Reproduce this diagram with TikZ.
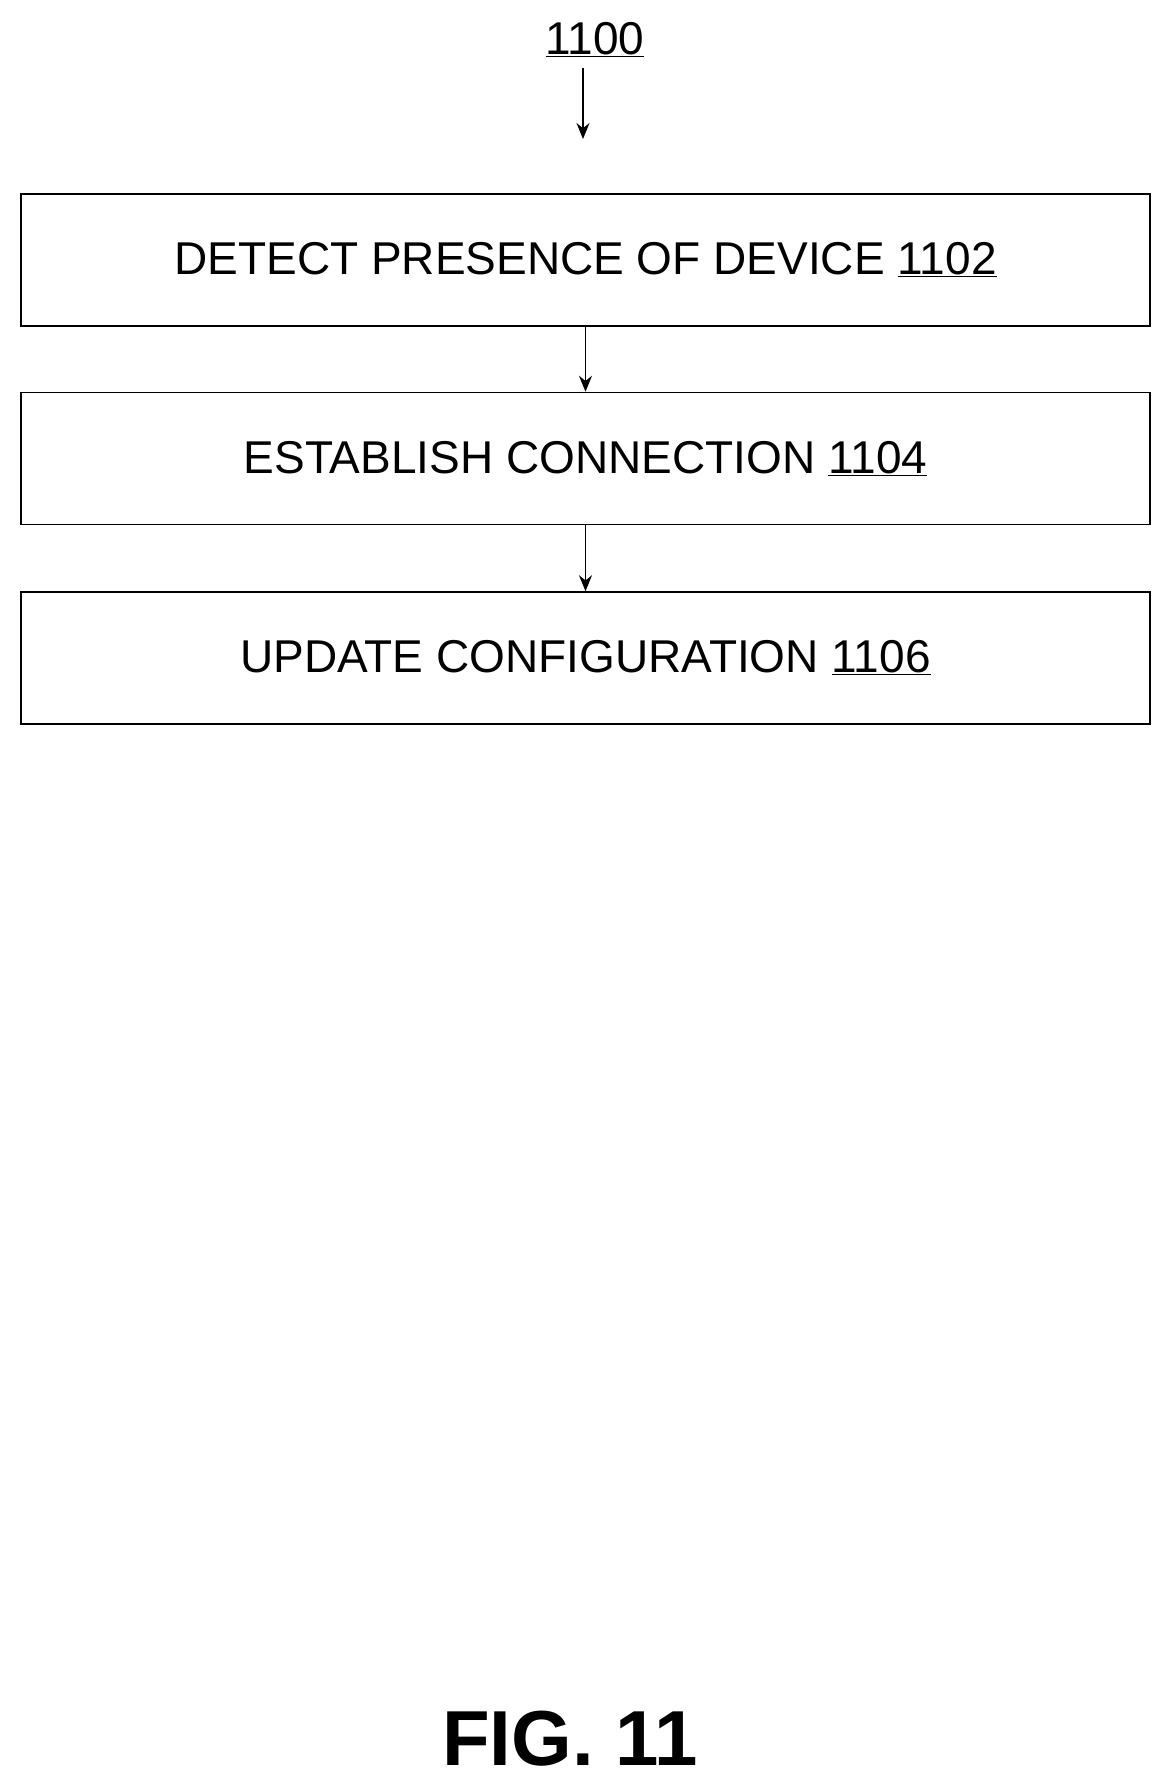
\documentclass[tikz,border=0pt]{standalone}
\usepackage{fontspec}
\setmainfont{Liberation Sans}
\usetikzlibrary{arrows.meta}
\begin{document}
\begin{tikzpicture}[x=1pt,y=-1pt,
  stepbox/.style={draw,line width=1.5pt,minimum width=1129pt,minimum height=132pt,inner sep=0pt,font=\fontsize{46}{50}\selectfont},
  arr/.style={-{Stealth[length=16pt,width=13pt]},line width=1.8pt}]
\useasboundingbox (0,0) rectangle (1168,1781);
\node[font=\fontsize{46}{50}\selectfont] (lbl) at (595,40) {\underline{1100}};
\coordinate (s) at (583,68);
\node[stepbox] (b1) at (585.5,260) {DETECT PRESENCE OF DEVICE \underline{1102}};
\node[stepbox] (b2) at (585.5,458.5) {ESTABLISH CONNECTION \underline{1104}};
\node[stepbox] (b3) at (585.5,658) {UPDATE CONFIGURATION \underline{1106}};
\draw[arr] (s) -- (583,139);
\draw[arr] (b1.south -| 585.5,0) -- (b2.north);
\draw[arr] (b2.south) -- (b3.north);
\node[font=\bfseries\fontsize{78}{84}\selectfont] (fig) at (570,1739) {FIG. 11};
\end{tikzpicture}
\end{document}
